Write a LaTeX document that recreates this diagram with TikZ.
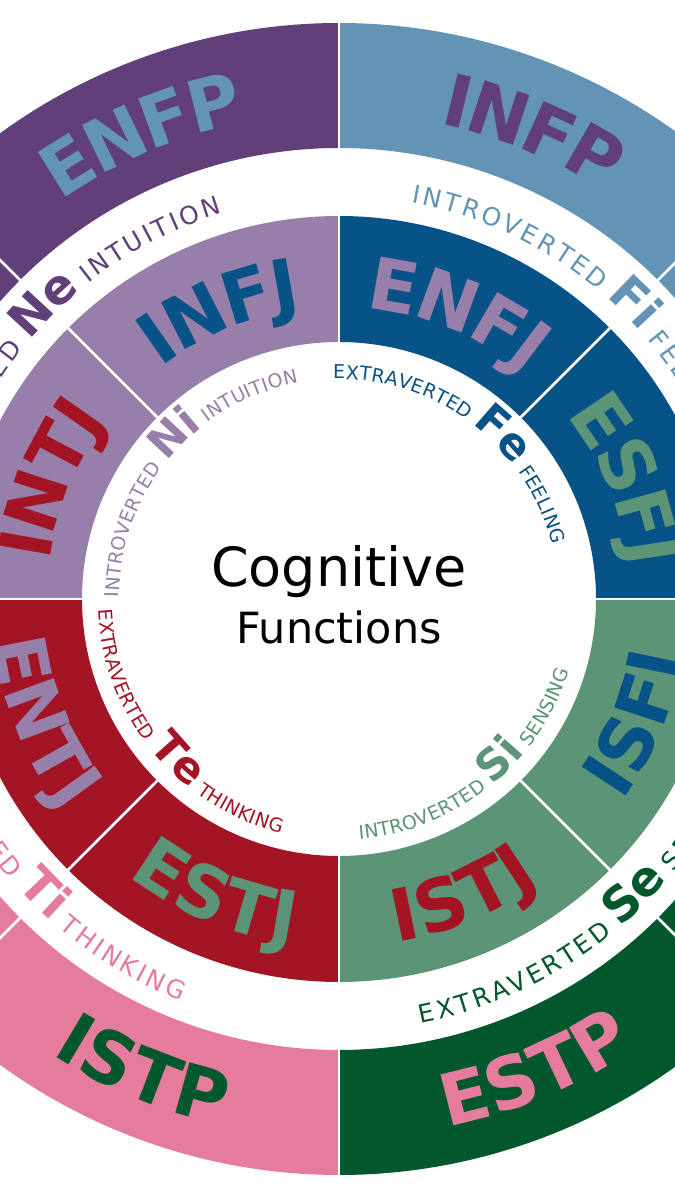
\documentclass[tikz,border=0pt]{standalone}
\usepackage{fontspec}
\setmainfont{DejaVu Sans}
\definecolor{cNe}{HTML}{613F79}
\definecolor{cFi}{HTML}{6494B5}
\definecolor{cNi}{HTML}{977FA9}
\definecolor{cFe}{HTML}{075287}
\definecolor{cTe}{HTML}{A31424}
\definecolor{cSi}{HTML}{5B9476}
\definecolor{cTi}{HTML}{E57C9D}
\definecolor{cSe}{HTML}{03572D}
\newcommand\arcchar[4]{\node[anchor=base,inner sep=0pt,outer sep=0pt,rotate=#2] at (#1:#3pt) {#4};}
\ExplSyntaxOn
\box_new:N \g__arc_box
\dim_new:N \l__arc_w_dim
\fp_new:N \l__arc_ang_fp
\fp_new:N \l__arc_r_fp
\fp_new:N \l__arc_dir_fp
\fp_new:N \l__arc_sp_fp
\fp_new:N \l__arc_ssp_fp
\fp_new:N \l__arc_gap_fp
\fp_new:N \l__arc_bw_fp
\fp_new:N \l__arc_pw_fp
\fp_new:N \l__arc_cw_fp
\fp_new:N \l__arc_mid_fp
\tl_new:N \l__arc_sfont_tl
\tl_new:N \l__arc_bfont_tl
\cs_new_protected:Npn \__arc_box:n #1
  {
    \pgfinterruptpicture
      \hbox_gset:Nn \g__arc_box { #1 }
    \endpgfinterruptpicture
  }
\cs_new_protected:Npn \__arc_measure:nn #1 #2
  {
    \dim_zero:N \l__arc_w_dim
    \tl_map_inline:nn {#2}
      {
        \__arc_box:n { #1 ##1 }
        \dim_add:Nn \l__arc_w_dim { \box_wd:N \g__arc_box + \fp_to_dim:N \l__arc_sp_fp }
      }
    \dim_sub:Nn \l__arc_w_dim { \fp_to_dim:N \l__arc_sp_fp }
  }
\cs_new_protected:Npn \__arc_place:nn #1 #2
  {
    \tl_map_inline:nn {#2}
      {
        \__arc_box:n { #1 ##1 }
        \fp_set:Nn \l__arc_cw_fp { \dim_to_fp:n { \box_wd:N \g__arc_box } }
        \fp_set:Nn \l__arc_mid_fp
          { \l__arc_ang_fp + \l__arc_dir_fp * ( \l__arc_cw_fp / 2 ) / \l__arc_r_fp * 180 / pi }
        \use:e
          {
            \exp_not:N \arcchar
              { \fp_eval:n { round ( \l__arc_mid_fp , 4 ) } }
              { \fp_eval:n { round ( \l__arc_mid_fp + \l__arc_dir_fp * 90 , 4 ) } }
              { \fp_eval:n { round ( \l__arc_r_fp , 3 ) } }
          }
          { #1 ##1 }
        \fp_set:Nn \l__arc_ang_fp
          { \l__arc_ang_fp + \l__arc_dir_fp * ( \l__arc_cw_fp + \l__arc_sp_fp ) / \l__arc_r_fp * 180 / pi }
      }
  }
\NewDocumentCommand \arcstyle { m m m m }
  {
    \tl_set:Nn \l__arc_sfont_tl {#1}
    \tl_set:Nn \l__arc_bfont_tl {#2}
    \fp_set:Nn \l__arc_ssp_fp {#3}
    \fp_set:Nn \l__arc_gap_fp {#4}
  }
% radius, centre angle, direction, spacing, font, text
\NewDocumentCommand \arcword { m m m m m m }
  {
    \fp_set:Nn \l__arc_r_fp {#1}
    \fp_set:Nn \l__arc_dir_fp {#3}
    \fp_set:Nn \l__arc_sp_fp {#4}
    \__arc_measure:nn {#5} {#6}
    \fp_set:Nn \l__arc_ang_fp
      { #2 - \l__arc_dir_fp * ( \dim_to_fp:n { \l__arc_w_dim } / 2 ) / \l__arc_r_fp * 180 / pi }
    \__arc_place:nn {#5} {#6}
  }
% radius, centre angle, direction, colour, prefix, big, suffix
\NewDocumentCommand \arclabel { m m m m m m m }
  {
    \fp_set:Nn \l__arc_r_fp {#1}
    \fp_set:Nn \l__arc_dir_fp {#3}
    \fp_zero:N \l__arc_sp_fp
    \__arc_measure:nn { \l__arc_bfont_tl } {#6}
    \fp_set:Nn \l__arc_bw_fp { \dim_to_fp:n { \l__arc_w_dim } }
    \fp_set_eq:NN \l__arc_sp_fp \l__arc_ssp_fp
    \__arc_measure:nn { \l__arc_sfont_tl } {#5}
    \fp_set:Nn \l__arc_pw_fp { \dim_to_fp:n { \l__arc_w_dim } }
    \fp_set:Nn \l__arc_ang_fp
      { #2 - \l__arc_dir_fp * ( \l__arc_bw_fp / 2 + \l__arc_gap_fp + \l__arc_pw_fp ) / \l__arc_r_fp * 180 / pi }
    \__arc_place:nn { \color{#4} \l__arc_sfont_tl } {#5}
    \fp_zero:N \l__arc_sp_fp
    \fp_set:Nn \l__arc_ang_fp
      { #2 - \l__arc_dir_fp * ( \l__arc_bw_fp / 2 ) / \l__arc_r_fp * 180 / pi }
    \__arc_place:nn { \color{#4} \l__arc_bfont_tl } {#6}
    \fp_set_eq:NN \l__arc_sp_fp \l__arc_ssp_fp
    \fp_set:Nn \l__arc_ang_fp
      { #2 + \l__arc_dir_fp * ( \l__arc_bw_fp / 2 + \l__arc_gap_fp ) / \l__arc_r_fp * 180 / pi }
    \__arc_place:nn { \color{#4} \l__arc_sfont_tl } {#7}
  }
\ExplSyntaxOff
\newcommand\namefont{\bfseries\fontsize{72pt}{72pt}\selectfont}
\newcommand\ringseg[5]{%
  \fill[#5] (#1:#3pt) arc[start angle=#1,end angle=#2,radius=#3pt]
    -- (#2:#4pt) arc[start angle=#2,end angle=#1,radius=#4pt] -- cycle;}
\tikzset{sepline/.style={white,line width=2.8pt}}
\begin{document}
\begin{tikzpicture}
\useasboundingbox (-339pt,-601pt) rectangle (336pt,599pt);
\fill[white] (-339pt,-601pt) rectangle (336pt,599pt);
\clip (-339pt,-601pt) rectangle (336pt,599pt);
% outer ring
\ringseg{0}{45}{576}{451}{cFi}
\ringseg{45}{90}{576}{451}{cFi}
\ringseg{90}{135}{576}{451}{cNe}
\ringseg{135}{180}{576}{451}{cNe}
\ringseg{180}{225}{576}{451}{cTi}
\ringseg{225}{270}{576}{451}{cTi}
\ringseg{270}{315}{576}{451}{cSe}
\ringseg{315}{360}{576}{451}{cSe}
% inner ring
\ringseg{0}{45}{383}{257}{cFe}
\ringseg{45}{90}{383}{257}{cFe}
\ringseg{90}{135}{383}{257}{cNi}
\ringseg{135}{180}{383}{257}{cNi}
\ringseg{180}{225}{383}{257}{cTe}
\ringseg{225}{270}{383}{257}{cTe}
\ringseg{270}{315}{383}{257}{cSi}
\ringseg{315}{360}{383}{257}{cSi}
\foreach \a in {0,45,...,315}{
  \draw[sepline] (\a:254pt) -- (\a:386pt);
  \draw[sepline] (\a:448pt) -- (\a:579pt);
}
% type names, outer ring
\arcword{486}{113}{-1}{-3}{\color{cFi}\namefont}{ENFP}
\arcword{486}{67.5}{-1}{-3}{\color{cNe}\namefont}{INFP}
\arcword{539}{247.5}{1}{1}{\color{cSe}\namefont}{ISTP}
\arcword{539}{292.5}{1}{1}{\color{cTi}\namefont}{ESTP}
% type names, inner ring
\arcword{292}{112.5}{-1}{-3}{\color{cFe}\namefont}{INFJ}
\arcword{292}{67.5}{-1}{-3}{\color{cNi}\namefont}{ENFJ}
\arcword{292}{22.5}{-1}{-3}{\color{cSi}\namefont}{ESFJ}
\arcword{292}{157.5}{-1}{-3}{\color{cTe}\namefont}{INTJ}
\arcword{348}{202.5}{1}{1}{\color{cNi}\namefont}{ENTJ}
\arcword{348}{247.5}{1}{1}{\color{cSi}\namefont}{ESTJ}
\arcword{348}{292.5}{1}{1}{\color{cTe}\namefont}{ISTJ}
\arcword{348}{337.5}{1}{1}{\color{cFe}\namefont}{ISFJ}
% inner function labels
\arcstyle{\fontsize{19pt}{19pt}\selectfont}{\bfseries\fontsize{43pt}{43pt}\selectfont}{0.3}{7}
\arclabel{220}{135}{-1}{cNi}{INTROVERTED}{Ni}{INTUITION}
\arclabel{220}{45}{-1}{cFe}{EXTRAVERTED}{Fe}{FEELING}
\arclabel{241}{225}{1}{cTe}{EXTRAVERTED}{Te}{THINKING}
\arclabel{241}{315}{1}{cSi}{INTROVERTED}{Si}{SENSING}
% outer function labels
\arcstyle{\fontsize{25pt}{25pt}\selectfont}{\bfseries\fontsize{48pt}{48pt}\selectfont}{3}{10}
\arclabel{403}{135}{-1}{cNe}{EXTRAVERTED}{Ne}{INTUITION}
\arclabel{403}{45}{-1}{cFi}{INTROVERTED}{Fi}{FEELING}
\arclabel{432}{225}{1}{cTi}{INTROVERTED}{Ti}{THINKING}
\arclabel{432}{315}{1}{cSe}{EXTRAVERTED}{Se}{SENSING}
% centre
\node[anchor=base,inner sep=0pt,font=\fontsize{54pt}{54pt}\selectfont] (cog) at (0pt,13pt) {Cognitive};
\node[anchor=base,inner sep=0pt,font=\fontsize{43pt}{43pt}\selectfont] (fun) at (0pt,-44pt) {Functions};
\end{tikzpicture}
\end{document}
